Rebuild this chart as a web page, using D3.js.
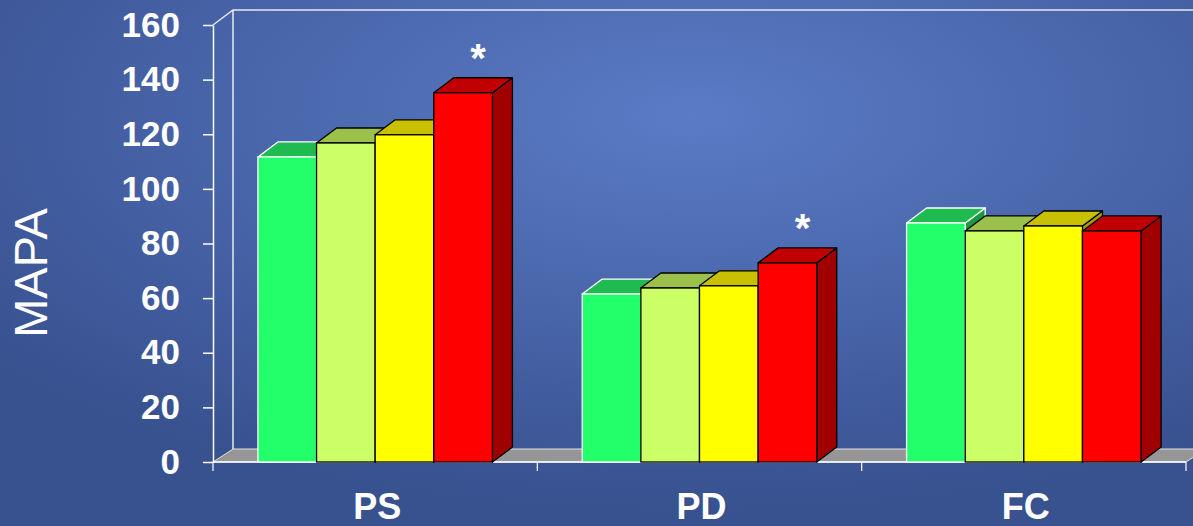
<!DOCTYPE html>
<meta charset="utf-8">
<html>
<head>
<style>
body { margin: 0; background: #3d5a9a; }
svg { display: block; }
text { font-family: "Liberation Sans", Arial, sans-serif; fill: #fff; }
.axis path, .axis line { stroke: #fff; stroke-width: 1.5; fill: none; }
.axis text { font-size: 35px; font-weight: bold; }
</style>
<script src="https://cdn.jsdelivr.net/npm/d3@7"></script>
</head>
<body>
<svg width="1193" height="526"></svg>
<script>
// data
var categories = ["PS", "PD", "FC"];
var seriesNames = ["s1", "s2", "s3", "s4"];
var series1 = [111.7, 61.5, 87.5];
var series2 = [116.8, 63.7, 84.6];
var series3 = [119.8, 64.5, 86.4];
var series4 = [135.2, 72.9, 84.6];
var yTicks = [0, 20, 40, 60, 80, 100, 120, 140, 160];
var starred = ["PS", "PD"];   // asterisk over last series

var allSeries = [series1, series2, series3, series4];
var front = ["#22ff6a", "#ccff66", "#ffff00", "#ff0000"],
    topC  = ["#1fbb50", "#9cc04c", "#c8c000", "#c00000"],
    sideC = ["#199a3f", "#83a83a", "#a3a000", "#a00000"],
    edge  = ["#ffffff", "#000", "#000", "#000"];

var svg = d3.select("svg"),
    W = +svg.attr("width"), H = +svg.attr("height");

var defs = svg.append("defs");
var grad = defs.append("radialGradient").attr("id", "bg")
    .attr("cx", "58%").attr("cy", "22%").attr("r", "75%");
grad.append("stop").attr("offset", "0%").attr("stop-color", "#5a7bc6");
grad.append("stop").attr("offset", "100%").attr("stop-color", "#38518f");
svg.append("rect").attr("width", W).attr("height", H).attr("fill", "url(#bg)");

var DX = 20, DY = -15, FDY = -13;

var x0 = d3.scaleBand().domain(categories).range([213, 1186]);
var x1 = d3.scaleBand().domain(seriesNames).range([0, x0.bandwidth()])
    .paddingOuter(0.766);
var y = d3.scaleLinear().domain([0, 160]).range([462, 25]);

// floor
var xl = x0.range()[0], xr = x0.range()[1];
svg.append("path")
    .attr("d", "M" + xl + "," + y(0) + "L" + xr + "," + y(0) + "L" + (xr + DX) + "," + (y(0) + FDY) +
      "L" + (xl + DX) + "," + (y(0) + FDY) + "Z")
    .attr("fill", "#969696").attr("stroke", "#e0e0e0").attr("stroke-width", 1);

// back wall lines
svg.append("path")
    .attr("d", "M" + xl + "," + y(160) + "L" + (xl + DX) + "," + (y(160) + DY) + "L" + W + "," + (y(160) + DY) +
      "M" + (xl + DX) + "," + (y(160) + DY) + "L" + (xl + DX) + "," + (y(0) + FDY))
    .attr("fill", "none").attr("stroke", "#e8e8f0").attr("stroke-width", 1.5);

// y axis
var yAxis = svg.append("g").attr("class", "axis")
    .attr("transform", "translate(" + xl + ",0)")
    .call(d3.axisLeft(y).tickValues(yTicks).tickSize(10).tickSizeOuter(0).tickPadding(23));

// baseline + category ticks
svg.append("line").attr("x1", xl).attr("x2", xr).attr("y1", y(0)).attr("y2", y(0))
    .attr("stroke", "#fff").attr("stroke-width", 1.5);
svg.selectAll(".ctick").data(categories.map(function(c) { return x0(c); }).concat([xr]))
  .enter().append("line")
    .attr("x1", function(d) { return d; }).attr("x2", function(d) { return d; })
    .attr("y1", y(0)).attr("y2", y(0) + 9)
    .attr("stroke", "#fff").attr("stroke-width", 1.2);

// bars
categories.forEach(function(cat, ci) {
  var g = svg.append("g");
  seriesNames.forEach(function(s, si) {
    var v = allSeries[si][ci];
    var bx = x0(cat) + x1(s), bw = x1.bandwidth(), ty = y(v), by = y(0);
    g.append("path")
      .attr("d", "M" + (bx + bw) + "," + by + "L" + (bx + bw + DX) + "," + (by + DY) +
        "L" + (bx + bw + DX) + "," + (ty + DY) + "L" + (bx + bw) + "," + ty + "Z")
      .attr("fill", sideC[si]).attr("stroke", edge[si]).attr("stroke-width", 1.3)
      .attr("stroke-linejoin", "round");
    g.append("path")
      .attr("d", "M" + bx + "," + ty + "L" + (bx + DX) + "," + (ty + DY) +
        "L" + (bx + bw + DX) + "," + (ty + DY) + "L" + (bx + bw) + "," + ty + "Z")
      .attr("fill", topC[si]).attr("stroke", edge[si]).attr("stroke-width", 1.3)
      .attr("stroke-linejoin", "round");
    g.append("rect")
      .attr("x", bx).attr("y", ty).attr("width", bw).attr("height", by - ty)
      .attr("fill", front[si]).attr("stroke", edge[si]).attr("stroke-width", 1.3);
  });
  if (starred.indexOf(cat) >= 0) {
    var last = seriesNames[seriesNames.length - 1];
    var sv = allSeries[allSeries.length - 1][ci];
    svg.append("text")
      .attr("x", x0(cat) + x1(last) + x1.bandwidth() / 2 + DX / 2 + 5)
      .attr("y", y(sv) + DY - 6)
      .attr("text-anchor", "middle")
      .style("font-size", "40px").style("font-weight", "bold")
      .text("*");
  }
});

// category labels
svg.selectAll(".clabel").data(categories).enter().append("text")
    .attr("x", function(d) { return x0(d) + x0.bandwidth() / 2 + 2; })
    .attr("y", 519)
    .attr("text-anchor", "middle")
    .style("font-size", "36px").style("font-weight", "bold")
    .text(function(d) { return d; });

// y title
svg.append("text")
    .attr("transform", "translate(47,273) rotate(-90)")
    .attr("text-anchor", "middle")
    .style("font-size", "47px")
    .text("MAPA");
</script>
</body>
</html>
